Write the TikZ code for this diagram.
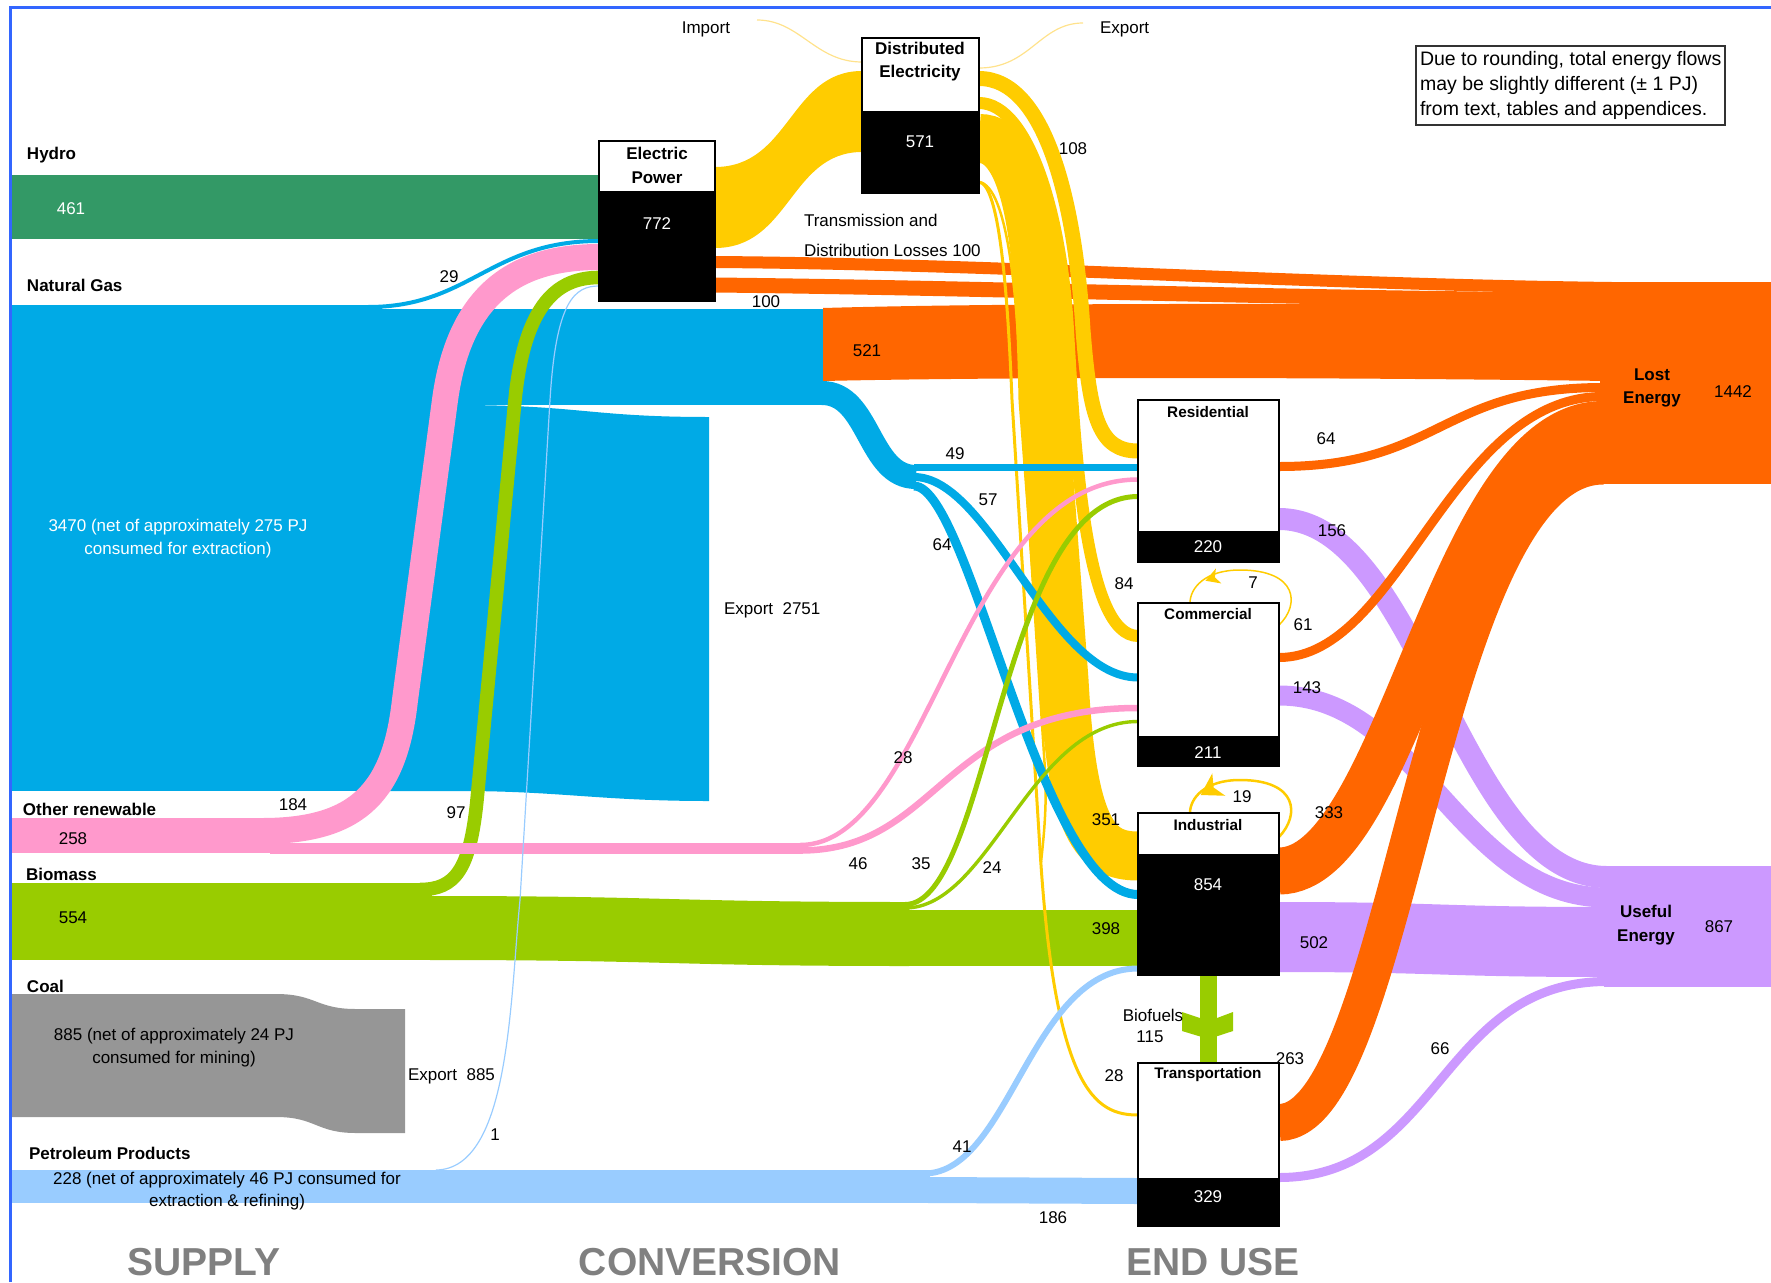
\documentclass[tikz,border=0pt]{standalone}
\usepackage{fontspec}
\setmainfont{Liberation Sans}
\usetikzlibrary{calc}
\definecolor{hydro}{RGB}{51,153,102}
\definecolor{gas}{RGB}{0,170,230}
\definecolor{renew}{RGB}{255,153,204}
\definecolor{biomass}{RGB}{153,204,0}
\definecolor{coal}{RGB}{150,150,150}
\definecolor{petrol}{RGB}{153,204,255}
\definecolor{elec}{RGB}{255,204,0}
\definecolor{lost}{RGB}{255,102,0}
\definecolor{useful}{RGB}{204,153,255}
\definecolor{framecol}{RGB}{51,102,255}
\definecolor{trade}{RGB}{255,226,140}
\definecolor{stagegray}{RGB}{128,128,128}
\begin{document}
\begin{tikzpicture}[x=1pt,y=-1pt,
  every node/.style={inner sep=0pt,outer sep=0pt},
  txt/.style={font=\fontsize{17}{23}\selectfont},
  btxt/.style={font=\fontsize{17}{23}\selectfont\bfseries},
  htxt/.style={font=\fontsize{15.3}{18}\selectfont\bfseries},
  wtxt/.style={txt,text=white},
  stagelbl/.style={font=\fontsize{39}{40}\selectfont\bfseries,text=stagegray,anchor=base},
  boxline/.style={draw=black,line width=2pt},
  band/.style={line cap=butt},
]
\useasboundingbox (0,0) rectangle (1771,1282);

% ---------- ports on the boxes ----------
\coordinate (ep-gas) at (599,241);
\coordinate (ep-ren) at (599,257);
\coordinate (ep-bio) at (599,277.5);
\coordinate (ep-pet) at (599,286);
\coordinate (res-elec) at (1138,451);
\coordinate (res-gas) at (1138,467.5);
\coordinate (res-ren) at (1138,479.5);
\coordinate (res-bio) at (1138,496.5);
\coordinate (com-elec) at (1138,636);
\coordinate (com-gas) at (1138,677.5);
\coordinate (com-ren) at (1138,708);
\coordinate (com-bio) at (1138,721.5);
\coordinate (ind-elec) at (1138,856);
\coordinate (ind-gas) at (1138,894.5);
\coordinate (ind-pet) at (1138,968.5);
\coordinate (tra-elec) at (1138,1115);
\coordinate (res-lost) at (1279,466.5);
\coordinate (com-lost) at (1279,657.5);
\coordinate (ind-lost) at (1279,871);
\coordinate (tra-lost) at (1279,1122.5);
\coordinate (res-use) at (1279,519);
\coordinate (com-use) at (1279,695.5);
\coordinate (tra-use) at (1279,1177.5);
\coordinate (lost-res) at (1603,387.5);
\coordinate (lost-com) at (1603,396.5);
\coordinate (lost-ind) at (1603,424.5);
\coordinate (lost-tra) at (1603,466);
\coordinate (use-res) at (1607,877);
\coordinate (use-com) at (1607,897.5);
\coordinate (use-tra) at (1607,981.5);
\coordinate (de-a) at (979,78.5);
\coordinate (de-b) at (979,103);
\coordinate (de-c) at (979,138.5);
\coordinate (de-d) at (979,182);
\coordinate (gas-split) at (914,477);

% ---------- supply bands ----------
\fill[hydro] (10,175) rectangle (599,239);

\fill[gas] (10,305) rectangle (382,791);
\fill[gas] (378,309) rectangle (823,405);
\fill[gas] (380,405) -- (456,405) .. controls (580,405) and (590,417) .. (709,417)
  -- (709,801) .. controls (600,801) and (560,791) .. (460,791) -- (380,791) -- cycle;

\fill[renew] (10,818) rectangle (272,853);

\fill[coal] (10,994) -- (276,994) .. controls (316,994) and (316,1009) .. (356,1009)
  -- (405,1009) -- (405,1133) -- (356,1133) .. controls (316,1133) and (316,1117) .. (276,1117)
  -- (10,1117) -- cycle;

\fill[petrol] (10,1170) rectangle (930,1203);
\fill[petrol] (928,1177) -- (1138,1178) -- (1138,1204) -- (928,1203) -- cycle;

\fill[biomass] (10,883) rectangle (432,960);
\fill[biomass] (430,896) .. controls (670,896) and (670,902) .. (909,902)
  -- (909,966) .. controls (670,966) and (670,960) .. (430,960) -- cycle;
\fill[biomass] (907,910) rectangle (1138,966);

% ---------- losses ----------
\fill[lost] (1600,282) rectangle (1771,484);
\fill[lost] (823,308) .. controls (1000,303) and (1300,303) .. (1610,306)
  -- (1610,381) .. controls (1300,377) and (1000,377) .. (823,381) -- cycle;
\draw[band,lost,line width=12pt] (715,262) .. controls (1000,264) and (1300,284) .. (1612,288);
\draw[band,lost,line width=15pt] (715,285) .. controls (1000,288) and (1300,299) .. (1612,300);

% ---------- useful energy ----------
\fill[useful] (1604,866) rectangle (1771,987);
\draw[band,useful,line width=22pt] (res-use) .. controls (1420,519) and (1460,877) .. (use-res);
\draw[band,useful,line width=20pt] (com-use) .. controls (1420,695.5) and (1460,897.5) .. (use-com);
\fill[useful] (1279,902) .. controls (1440,902) and (1440,907) .. (1607,907)
  -- (1607,977) .. controls (1440,977) and (1440,972) .. (1279,972) -- cycle;
\draw[band,useful,line width=9pt] (tra-use) .. controls (1440,1177.5) and (1440,981.5) .. (use-tra);

\draw[band,lost,line width=9pt] (res-lost) .. controls (1440,466.5) and (1440,387.5) .. (lost-res);
\draw[band,lost,line width=9pt] (com-lost) .. controls (1400,657.5) and (1450,396.5) .. (lost-com);
\draw[band,lost,line width=47pt] (ind-lost) .. controls (1400,871) and (1450,424.5) .. (lost-ind);
\draw[band,lost,line width=37pt] (tra-lost) .. controls (1400,1122.5) and (1430,466) .. (lost-tra);

% ---------- electricity ----------
\fill[elec] (715,167) .. controls (790,167) and (790,71) .. (862,71)
  -- (862,152) .. controls (790,152) and (790,248) .. (715,248) -- cycle;
\draw[band,elec,line width=15pt] (de-a) .. controls (1045,78.5) and (1075,200) .. (1083,330)
  .. controls (1090,420) and (1100,451) .. (res-elec);
\draw[band,elec,line width=12pt] (de-b) .. controls (1030,103) and (1062,220) .. (1068,330)
  .. controls (1075,450) and (1085,636) .. (com-elec);
\draw[band,elec,line width=49pt] (de-c) .. controls (1030,138.5) and (1040,250) .. (1043,400)
  -- (1064,680) .. controls (1072,830) and (1095,856) .. (ind-elec);
\draw[band,elec,line width=3pt] (de-d) .. controls (1000,184) and (1008,300) .. (1012,400)
  -- (1040,850) .. controls (1055,1090) and (1095,1115) .. (tra-elec);
\draw[band,elec,line width=2.5pt] (de-d) .. controls (1008,186) and (1018,300) .. (1021,400)
  -- (1045,770) .. controls (1047,805) and (1044,835) .. (1041,862);
\coordinate (imp-end) at (757,20);
\coordinate (exp-end) at (1083,23);
\draw[trade,line width=1.2pt] (imp-end) .. controls (800,20) and (815,62) .. (862,62);
\draw[trade,line width=1.2pt] (979,68) .. controls (1030,68) and (1040,23) .. (exp-end);

% self-use loops
\draw[elec,line width=1.5pt] (1279,625) .. controls (1300,605) and (1298,570) .. (1240,570)
  .. controls (1205,570) and (1190,588) .. (1190,603);
\fill[elec,shift={(1213,578)},rotate=200] (8,0) -- (-6,8) -- (-2,0) -- (-6,-8) -- cycle;
\draw[elec,line width=2.5pt] (1279,837) .. controls (1300,815) and (1298,780) .. (1240,780)
  .. controls (1205,780) and (1190,798) .. (1190,813);
\fill[elec,shift={(1211,789)},rotate=210] (12,0) -- (-9,13) -- (-3,0) -- (-9,-13) -- cycle;

% ---------- fuel strands ----------
\draw[band,gas,line width=4pt] (368,307) .. controls (470,307) and (490,241) .. (ep-gas);
\draw[band,gas,line width=24pt] (822,393) .. controls (870,393) and (868,477) .. (916,477);
\draw[band,gas,line width=7pt] (914,467.5) -- (res-gas);
\draw[band,gas,line width=8pt] (gas-split) .. controls (990,477) and (1050,677.5) .. (com-gas);
\draw[band,gas,line width=9pt] (914,486) .. controls (970,486) and (1040,894.5) .. (ind-gas);

\draw[band,biomass,line width=13.6pt] (420,889.5) .. controls (455,889.5) and (470,870) .. (477,800)
  -- (515,400) .. controls (525,300) and (560,277.5) .. (ep-bio);
\fill[renew] (270,843) rectangle (803,854);
\draw[band,renew,line width=26pt] (262,831) .. controls (360,831) and (395,790) .. (405,700)
  -- (445,400) .. controls (460,290) and (520,257) .. (ep-ren);
\draw[band,renew,line width=4.5pt] (800,845) .. controls (930,845) and (960,479.5) .. (res-ren);
\draw[band,renew,line width=6.5pt] (800,850.5) .. controls (940,850.5) and (940,708) .. (com-ren);
\draw[band,biomass,line width=5pt] (905,904.5) .. controls (990,904.5) and (1000,496.5) .. (res-bio);
\draw[band,biomass,line width=3.4pt] (905,908) .. controls (990,908) and (1030,721.5) .. (com-bio);

\draw[band,petrol,line width=1.2pt] (436,1170) .. controls (510,1169) and (510,1000) .. (520,900)
  -- (550,400) .. controls (556,300) and (575,286) .. (ep-pet);
\draw[band,petrol,line width=6pt] (924,1173.5) .. controls (1010,1173.5) and (1030,968.5) .. (ind-pet);

% biofuels transfer
\fill[biomass] (1200,975) rectangle (1217,1063);
\fill[biomass] (1182,1012) -- (1200,1018) -- (1217,1018) -- (1233,1012) -- (1233,1031)
  -- (1208.5,1039) -- (1182,1031) -- cycle;

% ---------- boxes ----------
\fill[white] (599,141) rectangle (715,191);
\fill[black] (599,191) rectangle (715,301);
\draw[boxline] (599,141) rectangle (715,301);
\fill[white] (862,38) rectangle (979,111);
\fill[black] (862,111) rectangle (979,193);
\draw[boxline] (862,38) rectangle (979,193);
\fill[white] (1138,400) rectangle (1279,531);
\fill[black] (1138,531) rectangle (1279,562);
\draw[boxline] (1138,400) rectangle (1279,562);
\fill[white] (1138,603) rectangle (1279,736);
\fill[black] (1138,736) rectangle (1279,766);
\draw[boxline] (1138,603) rectangle (1279,766);
\fill[white] (1138,813) rectangle (1279,854);
\fill[black] (1138,854) rectangle (1279,975);
\draw[boxline] (1138,813) rectangle (1279,975);
\fill[white] (1138,1063) rectangle (1279,1178);
\fill[black] (1138,1178) rectangle (1279,1226);
\draw[boxline] (1138,1063) rectangle (1279,1226);

\node[btxt,align=center,font=\fontsize{17}{24}\selectfont\bfseries] (ep-title) at (657,165) {Electric\\Power};
\node[wtxt] (ep-val) at (657,224) {772};
\node[btxt,align=center] (de-title) at (920,61.5) {Distributed\\Electricity};
\node[wtxt] (de-val) at (920,142) {571};
\node[htxt] (res-title) at (1208,412) {Residential};
\node[wtxt] (res-val) at (1208,547) {220};
\node[htxt] (com-title) at (1208,614) {Commercial};
\node[wtxt] (com-val) at (1208,753) {211};
\node[htxt] (ind-title) at (1208,825) {Industrial};
\node[wtxt] (ind-val) at (1208,885) {854};
\node[htxt] (tra-title) at (1208,1075) {Transportation};
\node[wtxt] (tra-val) at (1208,1197) {329};

% ---------- supply labels ----------
\node[btxt,anchor=west] (l-hydro) at (27,155) {Hydro};
\node[btxt,anchor=west] (l-gas) at (27,285) {Natural Gas};
\node[btxt,anchor=west] (l-ren) at (23,809) {Other renewable};
\node[btxt,anchor=west] (l-bio) at (26,874) {Biomass};
\node[btxt,anchor=west] (l-coal) at (27,986) {Coal};
\node[btxt,anchor=west] (l-pet) at (29,1153) {Petroleum Products};
\node[wtxt] (v-hydro) at (71,209) {461};
\node[wtxt,align=center] (v-gas) at (178,538.5) {3470 (net of approximately 275 PJ\\consumed for extraction)};
\node[txt] (v-ren) at (73,839) {258};
\node[txt] (v-bio) at (73,918) {554};
\node[txt,align=center] (v-coal) at (174,1048) {885 (net of approximately 24 PJ\\consumed for mining)};
\node[txt,align=center,font=\fontsize{17}{22}\selectfont] (v-pet) at (227,1191) {228 (net of approximately 46 PJ consumed for\\extraction \& refining)};

% ---------- flow labels ----------
\node[txt] at (449,277) {29};
\node[txt] at (293,805) {184};
\node[txt] at (456,813) {97};
\node[txt] at (766,302) {100};
\node[txt] at (867,351) {521};
\node[txt] at (955,454) {49};
\node[txt] at (988,500) {57};
\node[txt] at (942,545) {64};
\node[txt] at (1073,149) {108};
\node[txt] at (1124,584) {84};
\node[txt] at (1106,820) {351};
\node[txt] at (1106,929) {398};
\node[txt] at (903,758) {28};
\node[txt] at (858,864) {46};
\node[txt] at (921,864) {35};
\node[txt] at (992,868) {24};
\node[txt] at (962,1147) {41};
\node[txt] at (1053,1218) {186};
\node[txt] at (495,1135) {1};
\node[txt] at (1153,1015) {Biofuels};
\node[txt] at (1150,1037) {115};
\node[txt] at (1114,1076) {28};
\node[txt] at (1290,1059) {263};
\node[txt] at (1329,813) {333};
\node[txt] at (1326,439) {64};
\node[txt] at (1332,531) {156};
\node[txt] at (1253,583) {7};
\node[txt] at (1242,797) {19};
\node[txt] at (1303,625) {61};
\node[txt] at (1307,688) {143};
\node[txt] at (1314,943) {502};
\node[txt] at (1440,1049) {66};
\node[txt,anchor=east] (imp-lbl) at (730,29) {Import};
\node[txt,anchor=west] (exp-lbl) at (1100,29) {Export};
\node[txt,anchor=west] at (724,610) {Export\ \ 2751};
\node[txt,anchor=west] at (408,1076) {Export\ \ 885};
\node[txt,anchor=west,align=left,font=\fontsize{17}{30}\selectfont] at (804,235) {Transmission and\\Distribution Losses 100};

\node[btxt,align=center] (lost-lbl) at (1652,388) {Lost\\Energy};
\node[txt] at (1733,392) {1442};
\node[btxt,align=center,font=\fontsize{17}{24}\selectfont\bfseries] (use-lbl) at (1646,925) {Useful\\Energy};
\node[txt] at (1719,927) {867};

% note
\draw[line width=1.2pt,draw=black!80] (1416,46) rectangle (1725,125);
\node[anchor=west,align=left,font=\fontsize{19.5}{25}\selectfont] (note) at (1420,85) {Due to rounding, total energy flows\\may be slightly different (± 1 PJ)\\from text, tables and appendices.};

% stage headings
\node[stagelbl] at (204,1275) {SUPPLY};
\node[stagelbl] at (710,1275) {CONVERSION};
\node[stagelbl] at (1213,1275) {END USE};

% outer frame
\draw[framecol,line width=3pt] (10,1282) -- (10,7) -- (1771,7);
\end{tikzpicture}
\end{document}
